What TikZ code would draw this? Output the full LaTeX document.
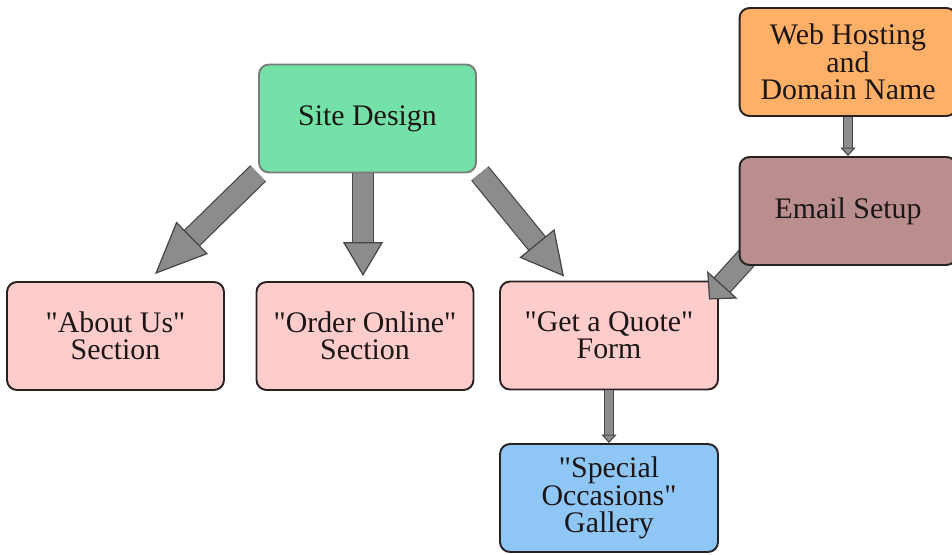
\documentclass[tikz,border=0pt]{standalone}
\usepackage{xcolor}
\usepackage{fontspec}
\setmainfont{Liberation Serif}[Ligatures=TeXOff]
\usepackage{tikz}
\usetikzlibrary{arrows.meta,positioning}
\definecolor{sitegreen}{RGB}{116,226,168}
\definecolor{hostorange}{RGB}{255,176,102}
\definecolor{mailmauve}{RGB}{186,142,142}
\definecolor{secpink}{RGB}{255,204,204}
\definecolor{galblue}{RGB}{142,198,246}
\definecolor{arrgray}{RGB}{140,140,140}
\definecolor{arredge}{RGB}{70,70,70}
\definecolor{boxline}{RGB}{40,34,34}
\definecolor{siteline}{RGB}{120,126,122}
\definecolor{txt}{RGB}{28,22,22}
\tikzset{
  box/.style={draw=boxline, rounded corners=0.2cm, line width=1.1pt, minimum width=4.34cm, minimum height=2.16cm, inner sep=2pt, align=center, text=txt, font=\fontsize{17}{15.5}\selectfont},
  box_g/.style={box, fill=sitegreen, draw=siteline},
  box_o/.style={box, fill=hostorange},
  box_m/.style={box, fill=mailmauve},
  box_p/.style={box, fill=secpink},
  box_b/.style={box, fill=galblue},
  big_arr/.style 2 args={draw=arrgray, line width=11.5pt, -{Triangle[width=#2,length=#1,fill=arrgray,color=arredge,line width=0.7pt]}, preaction={draw=arredge, line width=12.9pt, -, shorten >=#1-1pt}},
  thin_arr/.style={draw=arrgray, line width=4.4pt, -{Triangle[width=0.3cm,length=0.17cm,fill=arrgray,color=arredge,line width=0.6pt]}, preaction={draw=arredge, line width=5.6pt, -, shorten >=0.16cm}}
}
\pgfdeclarelayer{front}
\pgfsetlayers{main,front}

\begin{document}
\begin{tikzpicture}[x=0.02cm,y=-0.02cm]
	\useasboundingbox (0,0) rectangle (952,554);
	\begin{pgfonlayer}{front}
		\node[box_g] (site) at (367.5,118.5) {Site Design};
		\node[box_o] (host) at (848,62) {Web Hosting\\and\\Domain Name};
		\node[box_m] (email) at (848,211) {Email Setup};
	\end{pgfonlayer}
	\node[box_p] (about) at (115.5,336) {"About Us"\\Section};
	\node[box_p] (order) at (365,336) {"Order Online"\\Section};
	\node[box_p, minimum width=4.36cm] (quote) at (609,335.5) {"Get a Quote"\\Form};
	\node[box_b, minimum width=4.36cm] (gallery) at (609,498) {"Special\\Occasions"\\Gallery};

	\draw[big_arr={1.04cm}{0.9cm}] (site.south west) -- ([shift={(39.5,-7)}]about.north);
	\draw[big_arr={0.68cm}{0.8cm}] ([shift={(-4.5,0)}]site.south) -- ([shift={(-2,-5)}]order.north);
	\draw[big_arr={0.86cm}{0.9cm}] ([shift={(3,0)}]site.south east) -- ([shift={(65,-4)}]quote.north west);
	\draw[big_arr={0.4cm}{0.82cm}] ([shift={(9,-9)}]email.south west) -- ([shift={(-10,19)}]quote.north east);
	\draw[thin_arr] (host.south) -- (email.north);
	\draw[thin_arr] (quote.south) -- (gallery.north);
\end{tikzpicture}
\end{document}
